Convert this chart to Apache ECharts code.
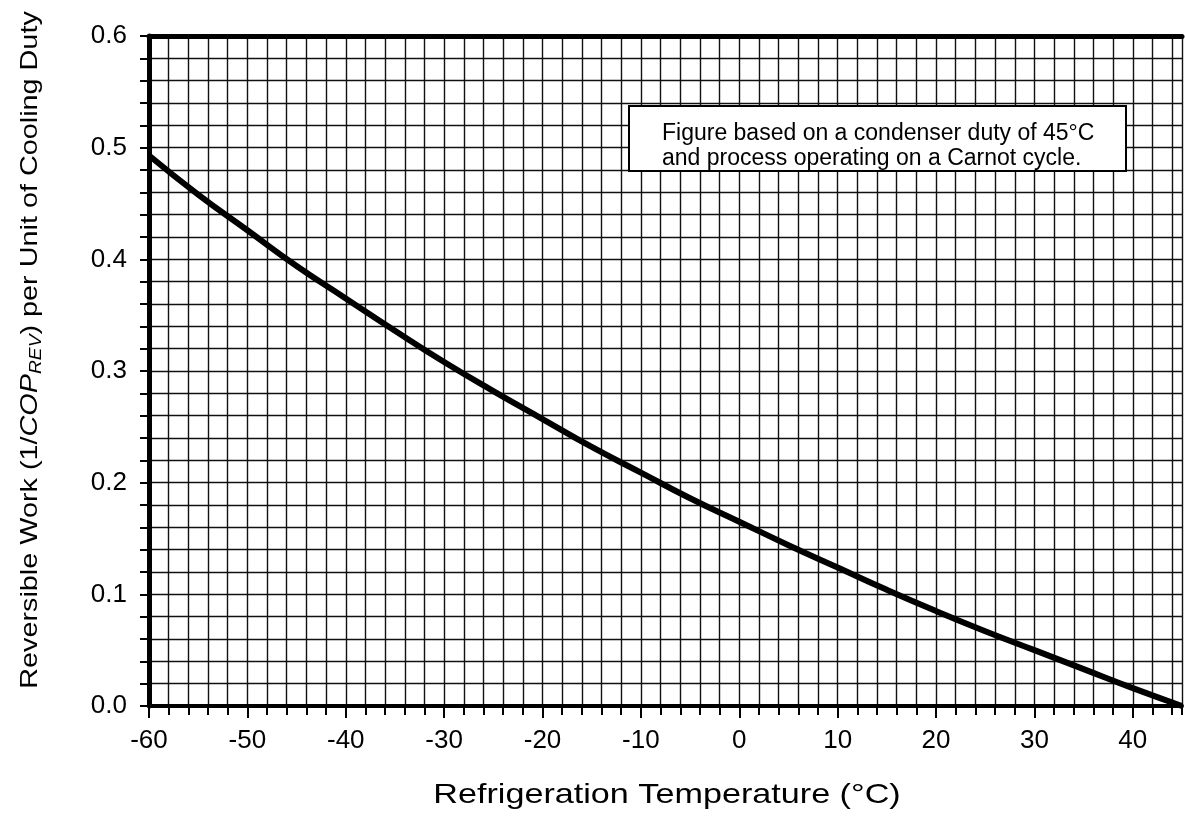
<!DOCTYPE html>
<html>
<head>
<meta charset="utf-8">
<script src="https://cdn.jsdelivr.net/npm/echarts@6/dist/echarts.min.js"></script>
<style>
html,body{margin:0;padding:0;background:#fff;}
#chart{width:1185px;height:820px;}
</style>
</head>
<body>
<div id="chart"></div>
<script>
// Data
const temps = [-60, -55, -50, -45, -40, -35, -30, -25, -20, -15, -10, -5, 0, 5, 10, 15, 20, 25, 30, 35, 40, 45];
const work  = [0.493, 0.458, 0.426, 0.394, 0.365, 0.336, 0.308, 0.282, 0.257, 0.232, 0.209, 0.186, 0.165, 0.144, 0.124, 0.104, 0.085, 0.067, 0.050, 0.033, 0.016, 0.0];
const xLabelValues = [-60, -50, -40, -30, -20, -10, 0, 10, 20, 30, 40];
const yLabelValues = [0, 0.1, 0.2, 0.3, 0.4, 0.5, 0.6];
const xTitle = 'Refrigeration Temperature (°C)';
const noteLines = ['Figure based on a condenser duty of 45°C', 'and process operating on a Carnot cycle.'];

const FONT = '"Liberation Sans", Arial, Helvetica, sans-serif';
const chart = echarts.init(document.getElementById('chart'), null, {renderer: 'canvas'});

const isLabel = (v, list) => list.some(t => Math.abs(t - v) < 1e-6);

const option = {
  backgroundColor: '#fff',
  animation: false,
  grid: {left: 149, right: -6, top: 36, bottom: 114, containLabel: false},
  xAxis: [
    {
      type: 'value', min: -60, max: 45, interval: 2, position: 'bottom',
      axisLine: {show: true, onZero: false, lineStyle: {color: '#000', width: 4}},
      axisTick: {show: true, inside: false, length: 9, lineStyle: {color: '#000', width: 2}},
      axisLabel: {
        show: true, color: '#000', fontFamily: FONT, fontSize: 26, margin: 22,
        formatter: v => isLabel(v, xLabelValues) ? String(Math.round(v)) : ''
      },
      splitLine: {show: true, lineStyle: {color: '#111', width: 1.4}}
    },
    {
      type: 'value', min: -60, max: 45, position: 'top',
      axisLine: {show: true, onZero: false, lineStyle: {color: '#000', width: 5}},
      axisTick: {show: false}, axisLabel: {show: false}, splitLine: {show: false}
    },
    {
      type: 'value', min: -60, max: 45, interval: 10, position: 'bottom',
      axisLine: {show: false, onZero: false},
      axisTick: {show: true, length: 12, customValues: xLabelValues, lineStyle: {color: '#000', width: 2}},
      axisLabel: {show: false}, splitLine: {show: false}
    }
  ],
  yAxis: {
    type: 'value', min: 0, max: 0.6, interval: 0.02,
    axisLine: {show: true, onZero: false, lineStyle: {color: '#000', width: 5}},
    axisTick: {show: true, inside: false, length: 9, lineStyle: {color: '#000', width: 2}},
    axisLabel: {
      show: true, color: '#000', fontFamily: FONT, fontSize: 26, margin: 22,
      formatter: v => isLabel(v, yLabelValues) ? v.toFixed(1) : ''
    },
    splitLine: {show: true, lineStyle: {color: '#111', width: 1.4}}
  },
  series: [{
    type: 'line', xAxisIndex: 0, data: temps.map((t, i) => [t, work[i]]),
    smooth: true, symbol: 'none', clip: true,
    lineStyle: {color: '#000', width: 6}
  }],
  graphic: [
    {
      type: 'rect', shape: {x: 629, y: 106, width: 497, height: 65},
      style: {fill: '#fff', stroke: '#000', lineWidth: 2}, z: 100
    },
    {
      type: 'text', x: 662, y: 121, z: 101,
      style: {text: noteLines.join('\n'), font: '23px ' + FONT, fill: '#000', lineHeight: 25}
    },
    {
      type: 'text', x: 667, y: 795, z: 101, scaleX: 1.22,
      style: {text: xTitle, font: '28px ' + FONT, fill: '#000', align: 'center', verticalAlign: 'middle'}
    },
    {
      type: 'text', x: 30, y: 350, rotation: Math.PI / 2, scaleX: 1.2, z: 101,
      style: {
        text: '{n|Reversible Work (1/}{i|COP}{s|REV}{n|) per Unit of Cooling Duty}',
        align: 'center', verticalAlign: 'middle', fill: '#000',
        rich: {
          n: {font: '24px ' + FONT, lineHeight: 30, fill: '#000'},
          i: {font: 'italic 24px ' + FONT, lineHeight: 30, fill: '#000'},
          s: {font: 'italic 16px ' + FONT, lineHeight: 16, verticalAlign: 'bottom', fill: '#000'}
        }
      }
    }
  ]
};
chart.setOption(option);
</script>
</body>
</html>
